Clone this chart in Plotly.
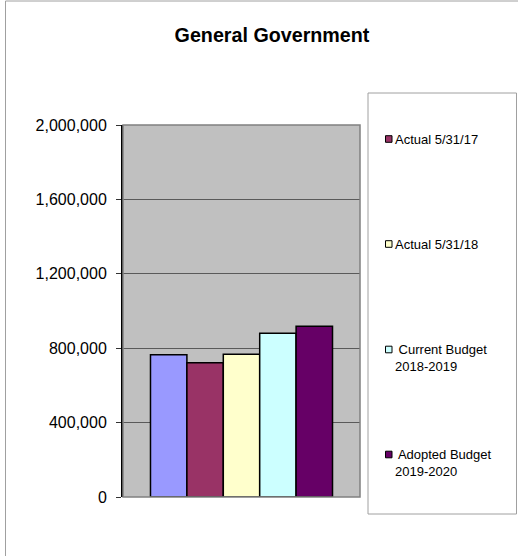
import plotly.graph_objects as go

# ---- data ----
category = [""]
series_names = ["Actual 5/31/16", "Actual 5/31/17", "Actual 5/31/18",
                "Current Budget 2018-2019", "Adopted Budget 2019-2020"]
legend_labels = [None, "Actual 5/31/17", "Actual 5/31/18",
                 " Current Budget<br>2018-2019", " Adopted Budget<br>2019-2020"]
series_values = [765000, 722000, 767000, 880000, 918000]
series_colors = ["#9999FF", "#993366", "#FFFFCC", "#CCFFFF", "#660066"]
y_ticks = [0, 400000, 800000, 1200000, 1600000, 2000000]

W, H = 518, 556
ML, MR, MT, MB = 123, 158, 125, 59
PW, PH = W - ML - MR, H - MT - MB


def px_x(x):
    return (x - ML) / PW


def px_y(y):
    return (H - MB - y) / PH


fig = go.Figure()
for name, val, col in zip(series_names, series_values, series_colors):
    fig.add_trace(go.Bar(
        x=category, y=[val], name=name,
        marker=dict(color=col, line=dict(color="black", width=1.5)),
        showlegend=False,
    ))

shapes = [
    # outer chart frame
    dict(type="rect", xref="paper", yref="paper",
         x0=px_x(5.5), x1=px_x(540), y0=px_y(570), y1=px_y(1),
         line=dict(color="#A0A0A0", width=1), fillcolor="rgba(0,0,0,0)", layer="below"),
    # plot area border
    dict(type="rect", xref="paper", yref="paper", x0=0, x1=1, y0=0, y1=1,
         line=dict(color="#808080", width=1.5), fillcolor="rgba(0,0,0,0)", layer="above"),
    # legend box
    dict(type="rect", xref="paper", yref="paper",
         x0=px_x(368), x1=px_x(516.5), y0=px_y(514), y1=px_y(93),
         line=dict(color="#A0A0A0", width=1), fillcolor="white", layer="below"),
]

annotations = []
legend_y = [139, 244, 349.5, 454.5]
entries = [(lbl, col) for lbl, col in zip(legend_labels, series_colors) if lbl is not None]
for (lbl, col), yc in zip(entries, legend_y):
    shapes.append(dict(type="rect", xref="paper", yref="paper",
                       x0=px_x(385.5), x1=px_x(392), y0=px_y(yc + 3.3), y1=px_y(yc - 3.3),
                       line=dict(color="black", width=1), fillcolor=col))
    annotations.append(dict(xref="paper", yref="paper", x=px_x(393), y=px_y(yc - 9.5),
                            xanchor="left", yanchor="top", align="left", showarrow=False,
                            text=lbl, font=dict(family="Liberation Sans, Arial", size=13, color="black")))

fig.update_layout(
    width=W, height=H,
    margin=dict(l=ML, r=MR, t=MT, b=MB, pad=0),
    paper_bgcolor="white",
    plot_bgcolor="#C0C0C0",
    barmode="group", bargap=0.232, bargroupgap=0,
    title=dict(text="<b>General Government</b>", xref="container", x=272 / W, xanchor="center",
               yref="container", y=1 - 35 / H, yanchor="middle",
               font=dict(family="Liberation Sans, Arial", size=19.7, color="black")),
    font=dict(family="Liberation Sans, Arial", color="black"),
    showlegend=False,
    shapes=shapes,
    annotations=annotations,
    xaxis=dict(showticklabels=False, showgrid=False, zeroline=False,
               showline=False, ticks=""),
    yaxis=dict(range=[0, 2000000], tickvals=y_ticks, tickformat=",",
               showgrid=True, gridcolor="#5a5a5a", gridwidth=1,
               zeroline=False, showline=True, linecolor="black", linewidth=2,
               ticks="outside", ticklen=5, tickcolor="#333333", tickwidth=1,
               ticklabelstandoff=6,
               tickfont=dict(family="Liberation Sans, Arial", size=16, color="black")),
)

fig.write_html("out.html")
